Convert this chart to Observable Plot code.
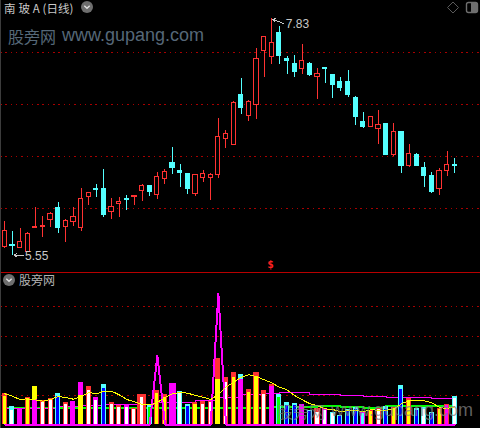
<!DOCTYPE html>
<html><head><meta charset="utf-8">
<script src="https://cdn.jsdelivr.net/npm/d3@7"></script>
<script src="https://cdn.jsdelivr.net/npm/@observablehq/plot@0.6"></script>
<style>
html,body{margin:0;padding:0;background:#000;width:480px;height:428px;overflow:hidden}
#wrap{position:relative;width:480px;height:428px}
#wrap svg{display:block;background:#000;shape-rendering:crispEdges}
.t{position:absolute;white-space:nowrap;font-family:"Noto Sans CJK SC","Liberation Sans",sans-serif;line-height:1.2}
</style></head><body>
<div id="wrap"></div>
<script>
const ups=[1,0,1,1,1,1,1,0,1,1,1,1,0,0,1,1,0,1,1,0,1,1,0,0,0,1,1,1,1,1,1,0,1,1,1,1,0,0,0,1,0,1,0,0,0,0,0,0,1,1,0,1,0,1,0,0,0,1,1,0];
const highs=[5.875,5.779,5.808,5.769,6.010,5.923,5.962,6.058,5.891,6.010,6.192,6.151,6.231,6.375,6.096,6.106,6.122,6.122,6.231,6.221,6.343,6.372,6.587,6.423,6.327,6.327,6.365,6.334,6.865,6.750,7.029,7.250,7.038,7.538,7.651,7.827,7.750,7.462,7.471,7.577,7.404,7.346,7.356,7.288,7.260,7.327,7.077,6.923,6.885,6.942,6.808,6.817,6.740,6.615,6.526,6.442,6.346,6.385,6.548,6.481];
const tops=[5.786,5.651,5.680,5.757,5.824,5.834,5.949,6.000,5.882,5.920,6.093,6.151,6.189,6.183,6.016,6.064,6.096,6.122,6.218,6.221,6.305,6.353,6.442,6.356,6.327,6.324,6.334,6.324,6.689,6.718,7.016,7.087,7.026,7.439,7.651,7.593,7.683,7.436,7.385,7.420,7.385,7.295,7.349,7.288,7.212,7.221,7.067,6.827,6.875,6.805,6.808,6.740,6.731,6.526,6.510,6.385,6.308,6.356,6.423,6.423];
const bottoms=[5.628,5.641,5.618,5.580,5.811,5.820,5.888,5.811,5.820,5.868,5.811,6.109,6.176,5.933,5.968,6.045,6.080,6.109,6.170,6.157,6.132,6.282,6.394,6.339,6.183,6.137,6.291,6.291,6.320,6.666,6.609,6.962,6.885,6.993,7.519,7.455,7.471,7.423,7.317,7.346,7.279,7.260,7.339,7.183,7.163,7.096,6.875,6.779,6.788,6.760,6.510,6.510,6.413,6.413,6.413,6.308,6.163,6.183,6.356,6.404];
const lows=[5.615,5.548,5.618,5.580,5.811,5.724,5.817,5.762,5.676,5.827,5.782,6.029,6.109,5.916,5.897,5.913,5.984,6.032,6.067,6.118,6.089,6.234,6.330,6.202,6.137,6.115,6.250,6.077,6.291,6.577,6.609,6.904,6.837,6.856,7.260,7.385,7.385,7.288,7.260,7.288,7.269,7.048,7.202,7.058,7.125,7.067,6.798,6.769,6.779,6.615,6.510,6.497,6.337,6.394,6.404,6.202,6.144,6.125,6.308,6.337];
const priceGrid=[6,6.5,7,7.5];
const lowerGrid=[29.5,59,88.5,118];
const barOuter=["r","c","m","r","y","r","r","c","r","m","m","r","m","c","r","r","m","r","r","c","r","r","m","c","c","r","r","r","r","r","r","c","r","r","r","r","c","c","c","m","c","r","m","c","c","c","c","m","r","r","c","r","c","r","c","c","c","r","r","c"];
const barInner=["y","w","m","y","m","w","w","b","w","m","y","w","w","b","w","w","w","w","w","g","y","y","m","w","b","y","w","w","y","w","y","m","y","y","w","m","g","b","b","m","b","w","w","w","b","b","b","c","y","w","b","y","b","y","b","w","b","y","m","w"];
const outerH=[30.7,18,15,26.7,38,24,25.7,31,22,23,42,38,27,40,22,19,19,16,30,20,34,30,41,33,20,22,23,23,66,47,52,50,35,52,34,40,30,22,21,20,14,16,16.3,12.3,9,15,17,13,14,16,18,17,39,26,16,17,12,16,20,28];
const innerH=[28,14,15,24.7,24.7,22.3,24.7,28.3,20,23,28.7,34,24,36,20,17.3,17.3,15,27,17,31.3,27.3,41,32,18,20,20,22,45,42,47,45,32,47,30,38,27,19,19,20,13,12.3,14,11,8,14,15,11,13,15,15,16,35,24,14,15,11,15,19,26];
const yellowLine=[30.7,28.3,25,25.7,24.7,23.3,25,28,27,25.3,28,32,30.7,33.3,33.3,29.7,25,22.7,20,19.5,22,27,30.7,32,31.3,29,27.3,25,30,37.3,42.3,47.3,49.7,48,44.7,41.7,37.3,34.7,29,24.7,20.7,18.7,15.7,15,12.7,14,14,12.7,14.7,14.3,14.3,15.3,20.7,23.7,23.7,23.7,21.7,17,16,17.7];
const stepMagenta=[15.7,15.7,15.7,15.7,15.7,15.7,15.7,18,18,18,19,19,19,20,20,20,20,20,20,20,21.7,21.7,21.7,21.7,21.7,23.7,23.7,23.7,27,27,27,29.7,29.7,29.7,30.7,30.7,31.7,31.7,31.7,31.7,29.7,29.7,29.7,29.7,28.7,28.7,28.7,27.7,27.7,27.7,26.7,26.7,26.7,26.7,26.7,26.7,25.7,25.7,25.7,25.7];
const stepGreen=[16.7,16.7,16.7,16.7,16.7,16.7,16.7,16.7,16.7,16.7,16.7,16.7,16.7,16.7,16.7,16.7,16.7,16.7,16.7,16.7,16.7,16.7,16.7,16.7,16.7,16.7,16.7,16.7,16.7,16.7,16.7,16.7,16.7,16.7,16.7,17.7,17.7,17.7,17.7,17.7,17.7,18.7,18.7,18.7,17.7,17.7,17.7,16.7,16.7,16.7,18.7,18.7,18.7,18.7,18.7,18.7,18.7,18.7,18.7,18.7];
const spike=[0,0,0,0,0,0,0,0,0,0,0,0,0,0,0,0,0,0,0,0,69,0,0,0,0,0,0,0,131,0,0,0,0,0,0,0,0,0,0,0,0,0,0,0,0,0,0,0,0,0,0,0,0,0,0,0,0,0,0,0];
const fullInner=[4,10,28,31,35];
const wideBars={18:0.59,22:0.46};
const highLabel="7.83", lowLabel="5.55";

const RED="#ff3232",CYAN="#54ffff",GRID="#a80000",TXT="#c8c8c8";
const pal={r:RED,c:CYAN,m:"#ff00ff",y:"#ffff00",w:"#ffffff",b:"#0000ff",g:"#00ff00"};
const xDom=[-0.564,62.37];
const I=d3.range(60);
const candles=I.map(i=>({i,up:ups[i],h:highs[i],t:tops[i],b:bottoms[i],l:lows[i]}));
const col=d=>d.up?RED:CYAN;
const topPlot=Plot.plot({
  width:480,height:271,margin:0,
  x:{axis:null,domain:xDom,range:[0,480]},
  y:{axis:null,domain:[5.3942,8],range:[271,0]},
  color:{type:"identity"},
  marks:[
    Plot.ruleY(priceGrid,{stroke:GRID,strokeDasharray:"1.5 3.8"}),
    Plot.ruleX(candles,{x:"i",y1:"l",y2:"h",stroke:col}),
    Plot.rect(candles,{x1:d=>d.i-0.275,x2:d=>d.i+0.275,y1:"b",y2:"t",stroke:col,fill:d=>d.up?"#000":CYAN}),
    Plot.arrow([{a:36.5,b:7.78,c:35.1,d:7.82}],{x1:"a",y1:"b",x2:"c",y2:"d",stroke:TXT,headLength:4,strokeWidth:1}),
    Plot.arrow([{a:2.5,b:5.55,c:1.2,d:5.55}],{x1:"a",y1:"b",x2:"c",y2:"d",stroke:TXT,headLength:4,strokeWidth:1}),
    Plot.text([highLabel],{x:()=>36.85,y:()=>7.775,text:d=>d,fill:TXT,textAnchor:"start",fontSize:12,fontFamily:"Liberation Sans"}),
    Plot.text([lowLabel],{x:()=>2.65,y:()=>5.545,text:d=>d,fill:TXT,textAnchor:"start",fontSize:12,fontFamily:"Liberation Sans"}),
    Plot.text(["$"],{x:()=>34.84,y:()=>5.462,text:d=>d,fill:"#ff2020",fontSize:11,fontWeight:"bold",fontFamily:"DejaVu Sans Mono"})
  ]
});
const bars=I.map(i=>({i,oc:pal[barOuter[i]],ic:pal[barInner[i]],oh:outerH[i],ih:innerH[i],
  ow:wideBars[i]||0.33,iw:fullInner.includes(i)?0.33:(wideBars[i]&&barOuter[i]==barInner[i]?wideBars[i]:0.2),
  y:yellowLine[i],m:stepMagenta[i],g:stepGreen[i],s:spike[i]}));
const lowerPlot=Plot.plot({
  width:480,height:157,margin:0,
  x:{axis:null,domain:xDom,range:[0,480]},
  y:{axis:null,domain:[-4,153],range:[157,0]},
  color:{type:"identity"},
  marks:[
    Plot.ruleY([152.5],{stroke:"#b80000"}),
    Plot.ruleY(lowerGrid,{stroke:GRID,strokeDasharray:"1.5 3.8"}),
    Plot.line(bars,{x:"i",y:"g",stroke:"#00ff00",curve:"step-after"}),
    Plot.line(bars,{x:"i",y:"m",stroke:"#ff00ff",strokeWidth:1,curve:"step-after"}),
    Plot.rect(bars,{x1:d=>d.i-d.ow,x2:d=>d.i+d.ow,y1:()=>0,y2:"oh",fill:"oc"}),
    Plot.rect(bars,{x1:d=>d.i-d.iw,x2:d=>d.i+d.iw,y1:()=>0,y2:"ih",fill:"ic"}),
    Plot.line(bars,{x:"i",y:"s",stroke:"#ff00ff",strokeWidth:2}),
    Plot.line(bars,{x:"i",y:"y",stroke:"#ffff00",strokeWidth:1})
  ]
});
const wrap=document.getElementById("wrap");
wrap.append(topPlot,lowerPlot);
function addText(s,css){const e=document.createElement("div");e.className="t";e.textContent=s;e.style.cssText+=css;wrap.append(e);}
addText("南 玻 A (日线)","left:4px;top:0px;font-size:11.5px;line-height:normal;color:#c8c8c8;word-spacing:0.3px");
addText("股旁网","left:277px;top:402px;font-size:16px;color:rgba(130,130,130,.75);");
addText("www.gupang.com","left:331px;top:400px;font-size:18px;color:rgba(130,130,130,.75);font-family:'Liberation Sans'");
addText("股旁网","left:8px;top:27px;font-size:16px;color:#566878");
addText("www.gupang.com","left:62px;top:25px;font-size:18px;color:#566878;font-family:'Liberation Sans'");
addText("股旁网","left:19px;top:273px;font-size:12px;color:#b4b4b4");
function circle(left,topY){const e=document.createElementNS("http://www.w3.org/2000/svg","svg");e.setAttribute("width",14);e.setAttribute("height",14);e.style.cssText=`position:absolute;left:${left}px;top:${topY}px;background:none;shape-rendering:auto`;e.innerHTML='<circle cx="7" cy="7" r="6" fill="#6e6e6e"/><path d="M4.3 5.8L7 8.3L9.7 5.8" fill="none" stroke="#e0e0e0" stroke-width="1.4"/>';wrap.append(e);}
circle(80,0);circle(2,273);
const ic=document.createElementNS("http://www.w3.org/2000/svg","svg");ic.setAttribute("width",40);ic.setAttribute("height",16);ic.style.cssText="position:absolute;left:440px;top:0;background:none;shape-rendering:auto";
ic.innerHTML='<path d="M13 2L18.5 7.5L13 13L7.5 7.5Z" fill="none" stroke="#5a5a5a"/><rect x="26.5" y="2.5" width="11" height="10" rx="2" fill="none" stroke="#6e6e6e" stroke-width="1.4"/><rect x="31" y="3" width="6" height="9" fill="#6e6e6e"/>';
wrap.append(ic);
const edge=document.createElement("div");edge.style.cssText="position:absolute;left:0;top:0;width:1px;height:428px;background:#3c3c3c";wrap.append(edge);
</script>
</body></html>
